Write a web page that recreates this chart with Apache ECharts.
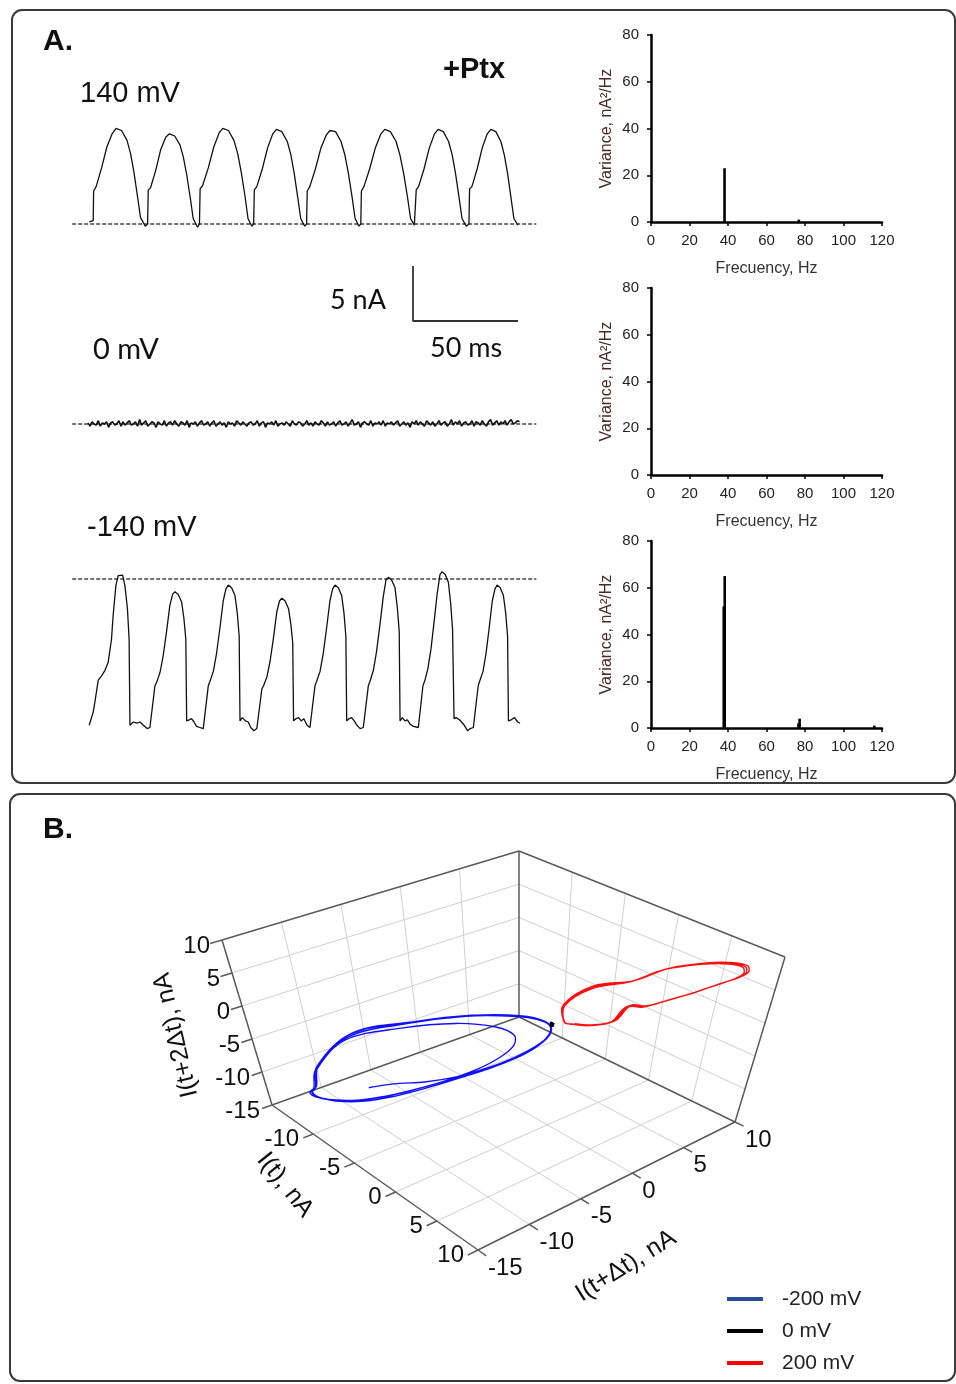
<!DOCTYPE html>
<html><head><meta charset="utf-8">
<script src="https://cdn.jsdelivr.net/npm/echarts@6/dist/echarts.min.js"></script>
<style>html,body{margin:0;padding:0;background:#fff}#c{width:956px;height:1384px}</style>
</head><body><div id="c"></div>
<script>
// ================= DATA =================
// Panel A traces: [time ms, current nA]
const trace140 = [
[10.1,0.2],[12.0,0.3],[12.2,3.0],[13.4,3.4],[16.0,5.1],[18.5,7.0],[21.0,8.2],[22.9,8.7],[25.5,8.5],[28.1,7.6],[29.8,6.4],[31.4,4.7],[33.1,2.5],[34.5,0.6],[36.8,-0.2],
[37.9,0.0],[38.2,3.1],[39.3,3.3],[41.8,4.9],[44.2,6.8],[46.6,7.9],[48.3,8.2],[50.8,8.0],[53.3,7.2],[54.9,6.1],[56.5,4.5],[58.2,2.4],[59.6,0.5],[61.7,-0.3],
[62.6,0.0],[62.9,3.2],[64.1,3.5],[66.8,5.1],[69.4,7.0],[72.0,8.3],[73.7,8.7],[76.4,8.5],[79.0,7.6],[80.8,6.4],[82.5,4.7],[84.3,2.5],[85.7,0.5],[87.5,-0.2],
[88.4,0.0],[88.7,3.1],[89.9,3.4],[92.5,5.0],[95.0,6.9],[97.5,8.2],[99.2,8.6],[101.8,8.4],[104.4,7.5],[106.1,6.3],[107.7,4.6],[109.4,2.4],[110.8,0.5],[112.7,-0.2],
[113.6,0.0],[113.9,3.0],[115.1,3.4],[117.8,5.0],[120.4,6.9],[123.0,8.1],[124.7,8.5],[127.4,8.4],[130.0,7.5],[131.8,6.3],[133.5,4.6],[135.3,2.4],[136.7,0.5],[138.5,-0.2],
[139.4,0.0],[139.7,3.0],[140.9,3.4],[143.6,5.0],[146.3,6.9],[149.0,8.2],[150.8,8.6],[153.5,8.4],[156.2,7.5],[158.0,6.3],[159.8,4.6],[161.6,2.5],[163.1,0.5],[164.9,-0.1],
[165.5,0.0],[165.8,3.1],[166.9,3.4],[169.5,5.0],[172.0,6.9],[174.5,8.2],[176.2,8.6],[178.7,8.4],[181.2,7.5],[182.9,6.3],[184.5,4.6],[186.2,2.4],[187.6,0.5],[189.6,-0.2],
[190.9,0.0],[191.2,3.2],[192.3,3.4],[194.8,5.0],[197.2,6.9],[199.6,8.2],[201.3,8.6],[203.7,8.4],[206.1,7.5],[207.7,6.3],[209.3,4.6],[210.9,2.4],[212.3,0.5],[214.2,-0.1]
];
const trace0Start = 9.5, trace0Step = 0.983;
const trace0 = [
0.1,-0.2,0.2,0.0,-0.1,0.3,-0.2,0.1,0.0,0.2,-0.3,0.1,0.2,-0.1,0.0,0.3,-0.2,0.2,-0.1,0.1,
0.3,-0.1,0.0,0.2,-0.2,0.4,-0.1,0.1,0.3,-0.2,0.0,0.2,0.1,-0.3,0.2,0.0,-0.1,0.3,-0.2,0.1,
0.2,-0.1,0.3,0.0,-0.2,0.2,0.1,-0.1,0.3,-0.3,0.1,0.0,0.2,-0.2,0.1,0.3,-0.1,0.0,0.2,-0.2,
0.1,0.3,-0.2,0.0,0.2,-0.1,0.1,-0.3,0.2,0.0,0.1,-0.2,0.3,0.1,-0.1,0.2,0.0,-0.2,0.1,0.2,
-0.1,0.0,0.3,-0.2,0.1,0.2,-0.3,0.1,0.0,0.2,-0.1,0.3,-0.2,0.0,0.1,-0.1,0.2,0.0,-0.2,0.3,
0.0,-0.1,0.2,0.1,-0.2,0.0,0.3,-0.1,0.1,-0.2,0.2,0.0,-0.1,0.3,0.1,-0.2,0.2,-0.1,0.0,0.2,
-0.2,0.1,0.3,-0.1,0.0,0.2,-0.2,0.1,0.4,-0.1,0.0,0.2,-0.3,0.1,0.2,0.0,-0.1,0.3,-0.2,0.1,
0.0,0.2,-0.1,0.3,-0.2,0.1,0.0,0.2,-0.1,0.1,0.3,-0.2,0.0,0.2,-0.1,0.1,-0.3,0.2,0.0,0.3,
-0.1,0.2,0.0,-0.2,0.3,0.1,-0.1,0.2,-0.2,0.0,0.3,-0.1,0.1,0.2,-0.2,0.0,0.4,-0.1,0.2,0.0,
0.3,-0.2,0.1,0.2,-0.1,0.0,0.3,-0.2,0.2,0.1,-0.1,0.3,0.0,-0.2,0.2,0.4,-0.1,0.1,0.3,-0.1,
0.2,0.0,0.3,-0.1,0.2,0.4,0.0,0.1,0.3,0.2
];
const traceM140 = [
[10.1,-13.3],[12.0,-12.1],[12.8,-11.2],[14.4,-9.2],[16.0,-8.8],[17.6,-8.3],[19.1,-7.6],[20.7,-5.5],[21.5,-3.3],[22.8,-0.6],[23.9,0.3],[24.7,0.45],[26.0,0.35],[27.1,-0.6],[28.3,-2.7],[29.1,-5.5],[29.5,-13.3],
[31.1,-13.0],[32.7,-13.1],[34.3,-13.0],[35.9,-13.3],[37.7,-13.6],[39.0,-13.5],
[41.4,-9.7],[42.2,-9.4],[43.8,-8.5],[45.3,-7.0],[46.9,-4.8],[48.5,-2.4],[49.8,-1.4],[50.9,-1.15],[52.5,-1.4],[54.1,-2.1],[55.2,-3.6],[56.1,-5.5],[56.5,-12.9],
[57.7,-12.8],[58.8,-12.7],[60.0,-13.0],[61.2,-13.4],[62.8,-13.5],[64.4,-13.6],
[66.8,-9.7],[67.6,-9.3],[69.2,-8.4],[70.7,-6.8],[72.3,-4.5],[73.9,-2.0],[75.2,-0.9],[76.3,-0.55],[77.9,-0.8],[79.5,-1.5],[80.6,-3.1],[81.5,-5.2],[81.9,-12.9],
[83.0,-12.6],[84.5,-12.9],[85.8,-13.0],[87.0,-13.5],[88.5,-13.8],[89.9,-13.6],
[92.3,-10.0],[93.1,-9.7],[94.7,-8.9],[96.2,-7.5],[97.8,-5.4],[99.4,-3.0],[100.7,-2.0],[101.8,-1.75],[103.4,-2.0],[105.0,-2.7],[106.1,-4.1],[107.0,-5.8],[107.4,-12.9],
[108.5,-12.7],[109.8,-12.6],[111.0,-12.9],[112.3,-12.7],[113.8,-13.3],[115.2,-13.5],
[117.6,-9.7],[118.4,-9.3],[120.0,-8.4],[121.5,-6.8],[123.1,-4.5],[124.7,-2.0],[126.0,-0.9],[127.1,-0.55],[128.7,-0.8],[130.3,-1.5],[131.4,-3.1],[132.3,-5.2],[132.7,-12.9],
[133.8,-12.7],[135.0,-12.6],[136.3,-12.9],[137.6,-13.3],[139.1,-13.6],[140.6,-13.5],
[143.0,-9.7],[143.8,-9.3],[145.4,-8.3],[146.9,-6.6],[148.5,-4.2],[150.1,-1.6],[151.4,-0.1],[152.5,0.15],[154.1,-0.1],[155.7,-0.8],[156.8,-2.6],[157.7,-4.8],[158.1,-12.9],
[159.2,-12.6],[160.4,-12.9],[161.6,-12.8],[162.9,-13.2],[164.5,-13.4],[166.8,-13.5],
[169.0,-9.7],[169.8,-9.3],[171.3,-8.2],[172.8,-6.4],[174.3,-3.9],[175.8,-1.3],[177.1,0.4],[178.1,0.66],[179.6,0.4],[181.1,-0.3],[182.2,-2.2],[183.1,-4.6],[183.8,-12.7],
[184.8,-12.6],[186.4,-12.8],[188.7,-13.3],[190.3,-13.8],[191.5,-13.6],[193.0,-13.5],
[195.3,-9.7],[196.0,-9.3],[197.6,-8.4],[199.0,-6.8],[200.5,-4.5],[202.0,-2.0],[203.3,-0.9],[204.3,-0.55],[205.8,-0.8],[207.3,-1.5],[208.4,-3.1],[209.3,-5.2],[209.7,-12.9],
[211.0,-12.8],[212.6,-12.6],[214.1,-13.0],[215.2,-13.1]
];
const baselineSpan = [2, 223];          // ms, dashed zero lines
const scaleBarMs = 50, scaleBarNA = 5;  // scale bar

// Spectra: [frequency Hz, variance nA^2/Hz]
const spec140 = [[38.2,23],[76.8,1]];
const spec0 = [];
const specM140 = [[37.8,52],[38.3,65],[76.6,2],[77.2,4],[116,1]];
const freqTicks = [0,20,40,60,80,100,120];
const varTicks = [0,20,40,60,80];

// Panel B: current time series (nA) used for delay embedding (I(t), I(t+dt), I(t+2dt))
const iM200 = [
-12.5,-12.6,-12.1,-11.9,-8.5,-5.3,-2.6,-0.8,-0.1,0.0,-0.6,-1.9,-3.6,-5.4,-7.2,-9.0,-10.6,-11.8,-12.4,-12.6,
-12.7,-12.2,-12.0,-9.0,-6.0,-3.5,-2.0,-1.6,-2.0,-3.0,-4.5,-6.2,-7.9,-9.5,-10.9,-11.9,-12.4,
-12.6,-12.1,-11.9,-8.8,-5.6,-2.9,-1.0,-0.2,0.1,-0.5,-1.6,-3.2,-4.9,-6.6,-8.3,-9.9,-11.2,-12.1,-12.5,
-12.6,-12.0,-11.8,-8.3,-5.1,-2.5,-0.7,0.0,0.0,-0.7,-2.1,-3.8,-5.5,-7.1,-8.2,-9.0,-9.7,-10.3
];
const i0 = [0.1,-0.1,0.2,-0.2,0.1,0.0,-0.1,0.2,-0.2,0.1,-0.1,0.0,0.2,-0.1];
const i200 = [
0.6,0.5,0.6,2.9,4.1,5.8,7.3,8.2,8.6,8.4,7.9,7.3,6.7,6.0,5.3,4.6,3.9,3.3,3.4,2.4,1.3,0.7,0.5,
0.6,2.8,4.0,5.7,7.2,8.1,8.5,8.3,7.8,7.2,6.6,5.9,5.2,4.5,3.8,3.2,3.3,2.3,1.2,0.7,0.5,
0.5,3.0,4.2,5.9,7.4,8.3,8.7,8.5,8.0,7.4,6.8,6.1,5.4,4.7,4.0,3.4,3.5,2.5,1.4,0.8,0.6
];
const axis3dMin = -15, axis3dMax = 10;
const ticks3dZ = [-15,-10,-5,0,5,10];
const ticks3dX = [-10,-5,0,5,10];
const ticks3dY = [-15,-10,-5,0,5,10];
const gridTicks3d = [-10,-5,0,5];

// ================= LAYOUT / PROJECTION =================
const FONT = '"Liberation Sans", Arial, sans-serif';
// screen anchors of the 3D box (floor Z=min, top Z=max); L=(min,min) B=(min,max) R=(max,max) F=(max,min)
const boxFloor = {L:[272,1105], B:[519,1017], R:[735,1122], F:[478,1250]};
const boxTop   = {L:[222,940],  B:[519,851],  R:[785,957],  F:[467,1078]};
function bil(c,u,v){
  const a=(1-u)*(1-v), b=(1-u)*v, r=u*v, f=u*(1-v);
  return [a*c.L[0]+b*c.B[0]+r*c.R[0]+f*c.F[0], a*c.L[1]+b*c.B[1]+r*c.R[1]+f*c.F[1]];
}
function proj(X,Y,Z){
  const span = axis3dMax-axis3dMin;
  const u=(X-axis3dMin)/span, v=(Y-axis3dMin)/span, w=(Z-axis3dMin)/span;
  const p0=bil(boxFloor,u,v), p1=bil(boxTop,u,v);
  return [p0[0]+w*(p1[0]-p0[0]), p0[1]+w*(p1[1]-p0[1])];
}
function embed(s){ const p=[]; for(let k=0;k+2<s.length;k++) p.push([s[k],s[k+1],s[k+2]]); return p; }

// 3D box segments [x1,y1,z1,x2,y2,z2,kind] kind 0 grid,1 edge,2 tick
const m=axis3dMin, M=axis3dMax;
const boxSegs=[];
gridTicks3d.forEach(t=>{
  boxSegs.push([t,m,m,t,M,m,0],[m,t,m,M,t,m,0]);     // floor
  boxSegs.push([m,t,m,m,t,M,0],[m,m,t,m,M,t,0]);     // left wall
  boxSegs.push([t,M,m,t,M,M,0],[m,M,t,M,M,t,0]);     // back wall
});
boxSegs.push([m,m,m,M,m,m,1],[M,m,m,M,M,m,1],[M,M,m,m,M,m,1],[m,M,m,m,m,m,1],
             [m,m,m,m,m,M,1],[m,M,m,m,M,M,1],[M,M,m,M,M,M,1],[m,m,M,m,M,M,1],[m,M,M,M,M,M,1]);
ticks3dX.forEach(t=>boxSegs.push([t,m,m,t,m-1,m,2]));
ticks3dY.forEach(t=>boxSegs.push([M,t,m,M+1,t,m,2]));
ticks3dZ.forEach(t=>boxSegs.push([m,m,t,m,m-1,t,2]));

// 3D tick labels [X,Y,Z,value,axis]
const labels3d=[];
ticks3dZ.forEach(t=>labels3d.push([m,m,t,t,0]));
ticks3dX.forEach(t=>labels3d.push([t,m,m,t,1]));
ticks3dY.forEach(t=>labels3d.push([M,t,m,t,2]));
const labelOff=[[-12,6,'right'],[-14,5,'right'],[10,18,'left']];

function curveSeries(name, values, color, lw){
  const pts = embed(values);
  return {type:'custom', name, coordinateSystem:'none', silent:true, z:5,
    itemStyle:{color}, data: pts,
    renderItem:(params)=>{
      if(params.dataIndex!==0) return null;
      return {type:'polyline', shape:{points: pts.map(p=>proj(p[0],p[1],p[2])), smooth:0.35},
              style:{stroke:color, lineWidth:lw, fill:null}};
    }};
}

// ================= OPTION =================
const traceX = i => ({gridIndex:i, type:'value', min:0, max:223.3, show:false});
const specX = i => ({gridIndex:i, type:'value', min:freqTicks[0], max:freqTicks[freqTicks.length-1], interval:20,
  axisLine:{show:true, onZero:false, lineStyle:{color:'#000', width:2.5}},
  axisTick:{show:true, length:4, lineStyle:{color:'#000', width:1.5}},
  axisLabel:{fontSize:15, color:'#222', margin:11, fontFamily:FONT}, splitLine:{show:false},
  name:'Frecuency, Hz', nameLocation:'middle', nameGap:39, nameTextStyle:{fontSize:16, color:'#333', fontFamily:FONT}});
const specY = i => ({gridIndex:i, type:'value', min:varTicks[0], max:varTicks[varTicks.length-1], interval:20,
  axisLine:{show:true, onZero:false, lineStyle:{color:'#000', width:2.5}},
  axisTick:{show:true, length:4, lineStyle:{color:'#000', width:1.5}},
  axisLabel:{fontSize:15, color:'#222', margin:12, fontFamily:FONT}, splitLine:{show:false},
  name:'Variance, nA\u00B2/Hz', nameLocation:'middle', nameRotate:90, nameGap:36, nameTextStyle:{fontSize:16, color:'#4a2a22', fontFamily:FONT}});

const traceLine = (xi, data, lw) => ({type:'line', xAxisIndex:xi, yAxisIndex:xi, data, showSymbol:false, symbol:'none',
  lineStyle:{color:'#111', width:lw}, silent:true, z:3});
const dashLine = xi => ({type:'line', xAxisIndex:xi, yAxisIndex:xi, data:[[baselineSpan[0],0],[baselineSpan[1],0]], symbol:'none',
  lineStyle:{color:'#444', width:1.5, type:[4,2]}, silent:true, z:2});
const specBars = (xi, data) => ({type:'bar', xAxisIndex:xi, yAxisIndex:xi, data, barWidth:2.6, itemStyle:{color:'#000'}, silent:true});

const text = (t, x, y, font, extra) => Object.assign({type:'text', x, y, silent:true,
  style:{text:t, font, fill:'#111', align:'left', verticalAlign:'middle'}}, extra||{});

const option = {
  animation:false,
  textStyle:{fontFamily:FONT},
  grid:[
    {left:68, top:114, width:469, height:121},
    {left:413, top:266, width:105, height:55},
    {left:68, top:402, width:469, height:44},
    {left:68, top:557, width:469, height:187},
    {left:651, top:35, width:231, height:187},
    {left:651, top:288, width:231, height:187},
    {left:651, top:541, width:231, height:187}
  ],
  xAxis:[traceX(0), {gridIndex:1,type:'value',min:0,max:scaleBarMs,show:false}, traceX(2), traceX(3), specX(4), specX(5), specX(6)],
  yAxis:[
    {gridIndex:0,type:'value',min:-1,max:10,show:false},
    {gridIndex:1,type:'value',min:0,max:scaleBarNA,show:false},
    {gridIndex:2,type:'value',min:-2,max:2,show:false},
    {gridIndex:3,type:'value',min:-15,max:2,show:false},
    specY(4), specY(5), specY(6)
  ],
  legend:{orient:'vertical', left:722, top:1283, icon:'rect', itemWidth:36, itemHeight:4, itemGap:10,
    textStyle:{fontSize:21, fontFamily:FONT, color:'#222', padding:[0,0,0,14], lineHeight:22},
    selectedMode:false,
    data:[{name:'-200 mV', itemStyle:{color:'#2a4d9b'}}, {name:'0 mV', itemStyle:{color:'#000'}}, {name:'200 mV', itemStyle:{color:'#ff0000'}}]},
  series:[
    dashLine(0), traceLine(0, trace140, 1.3),
    {type:'line', xAxisIndex:1, yAxisIndex:1, data:[[0,scaleBarNA],[0,0],[scaleBarMs,0]], symbol:'none', lineStyle:{color:'#333', width:1.8}, silent:true},
    dashLine(2), traceLine(2, trace0.map((v,i)=>[trace0Start+i*trace0Step, v]), 1.6),
    dashLine(3), traceLine(3, traceM140, 1.3),
    specBars(4, spec140), specBars(5, spec0), specBars(6, specM140),
    {type:'custom', coordinateSystem:'none', silent:true, z:1, data:boxSegs,
      renderItem:(params)=>{
        const s=boxSegs[params.dataIndex];
        const a=proj(s[0],s[1],s[2]), b=proj(s[3],s[4],s[5]);
        const st = s[6]===0 ? {stroke:'#cfcfcf', lineWidth:1} : {stroke:'#5a5a5a', lineWidth:1.5};
        return {type:'line', shape:{x1:a[0],y1:a[1],x2:b[0],y2:b[1]}, style:st};
      }},
    {type:'custom', coordinateSystem:'none', silent:true, z:2, data:labels3d,
      renderItem:(params)=>{
        const l=labels3d[params.dataIndex]; const p=proj(l[0],l[1],l[2]); const o=labelOff[l[4]];
        return {type:'text', x:p[0]+o[0], y:p[1]+o[1],
          style:{text:String(l[3]), font:'24px '+FONT, fill:'#111', align:o[2], verticalAlign:'middle'}};
      }},
    curveSeries('-200 mV', iM200, '#1010ff', 1.4),
    curveSeries('200 mV', i200, '#ff1010', 1.4),
    curveSeries('0 mV', i0, '#000000', 2.5)
  ],
  graphic:[
    {type:'rect', silent:true, shape:{x:12,y:10,width:943,height:773,r:10}, style:{fill:null, stroke:'#3a3a3a', lineWidth:2}},
    {type:'rect', silent:true, shape:{x:10,y:794,width:945,height:587,r:10}, style:{fill:null, stroke:'#3a3a3a', lineWidth:2}},
    text('A.', 43, 42, 'bold 30px '+FONT),
    text('+Ptx', 443, 70, 'bold 29px '+FONT),
    text('140 mV', 80, 94, '29px '+FONT),
    text('5 nA', 330, 300, '27px Lato'),
    text('50 ms', 430, 348, '27px Lato'),
    text('0 mV', 93, 350, '29px Lato'),
    text('-140 mV', 87, 528, '29px '+FONT),
    text('B.', 43, 830, 'bold 30px '+FONT),
    {type:'text', x:176, y:1035, rotation:1.80, silent:true, style:{text:'I(t+2\u0394t), nA', font:'25px '+FONT, fill:'#111', align:'center', verticalAlign:'middle'}},
    {type:'text', x:285, y:1185, rotation:-0.90, silent:true, style:{text:'I(t), nA', font:'25px '+FONT, fill:'#111', align:'center', verticalAlign:'middle'}},
    {type:'text', x:626, y:1266, rotation:0.56, silent:true, style:{text:'I(t+\u0394t), nA', font:'25px '+FONT, fill:'#111', align:'center', verticalAlign:'middle'}}
  ]
};
const chart = echarts.init(document.getElementById('c'), null, {renderer:'canvas'});
chart.setOption(option);
</script>
</body></html>
